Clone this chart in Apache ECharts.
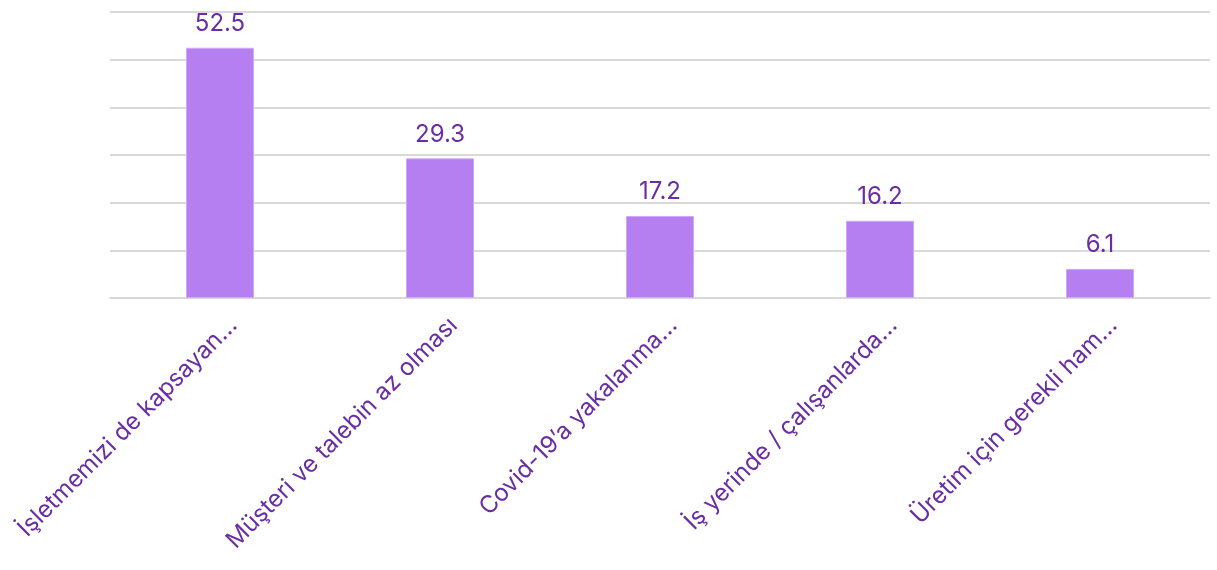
<!DOCTYPE html>
<html><head><meta charset="utf-8">
<script src="https://cdn.jsdelivr.net/npm/echarts@6/dist/echarts.min.js"></script>
<style>html,body{margin:0;padding:0;background:#fff}#c{width:1217px;height:570px}</style>
</head><body><div id="c"></div>
<script>
const categories = ["İşletmemizi de kapsayan…", "Müşteri ve talebin az olması", "Covid-19’a yakalanma…", "İş yerinde / çalışanlarda…", "Üretim için gerekli ham…"];
const values = [52.5, 29.3, 17.2, 16.2, 6.1];
const purpleText = '#6a2ea3';
const chart = echarts.init(document.getElementById('c'));
chart.setOption({
  animation: false,
  grid: {left: 110, right: 7, top: 12, bottom: 272},
  xAxis: {
    type: 'category', data: categories,
    axisLine: {show: true, lineStyle: {color: '#d9d9d9', width: 2}},
    axisTick: {show: false},
    axisLabel: {rotate: 45, interval: 0, color: purpleText, fontFamily: 'Inter', fontSize: 24, lineHeight: 38, margin: 10, verticalAlign: 'top'}
  },
  yAxis: {
    type: 'value', min: 0, max: 60, interval: 10,
    axisLabel: {show: false}, axisLine: {show: false}, axisTick: {show: false},
    splitLine: {lineStyle: {color: '#d9d9d9', width: 2}}
  },
  series: [{
    type: 'bar', data: values, barWidth: 68,
    itemStyle: {color: '#b57ff2', borderColor: '#cfa9f7', borderWidth: 1},
    label: {show: true, position: 'top', distance: 12, color: purpleText, fontFamily: 'Inter', fontSize: 24}
  }]
});
</script></body></html>
